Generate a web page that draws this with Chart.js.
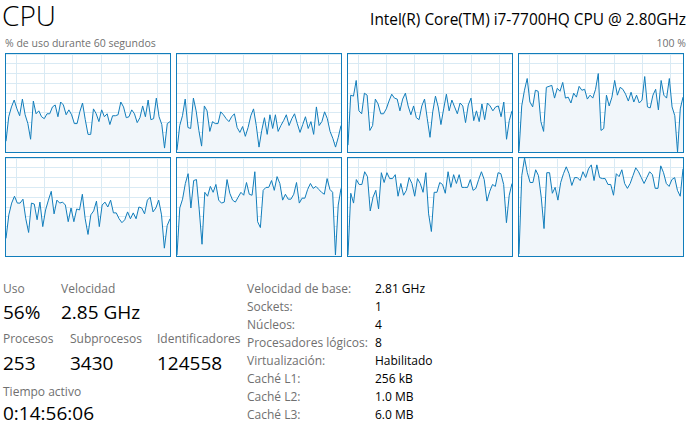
<!DOCTYPE html>
<html><head><meta charset="utf-8">
<script src="https://cdn.jsdelivr.net/npm/chart.js@4.4.1/dist/chart.umd.min.js"></script>
<style>
html,body{margin:0;padding:0;background:#fff;width:693px;height:430px;overflow:hidden;font-family:"Open Sans","Noto Sans",sans-serif;}
.t{position:absolute;white-space:nowrap;}
.box{position:absolute;border:1px solid #117DBB;width:164px;height:98px;}
.box canvas{display:block;}
.lab{color:#707070;font-size:12px;line-height:12px;}
.big{color:#000;font-size:19px;line-height:19px;}
.val{color:#000;font-size:12px;line-height:12px;}
</style></head><body>
<div id="root"></div>
<script>
// ---- data (CPU % per logical processor, last 60 s) ----
const cpu0 = [11,36,46,53,44,37,54,38,29,13,52,39,42,36,34,39,39,46,48,36,51,48,38,43,38,29,29,41,50,33,18,18,44,39,31,43,36,39,28,37,37,38,51,46,35,36,43,39,30,35,47,36,53,33,34,55,36,28,4,29,31];
const cpu1 = [2,27,37,54,25,24,55,42,22,6,47,42,21,31,29,29,41,38,34,31,36,39,25,20,26,16,25,37,44,27,5,22,35,18,38,24,38,21,27,32,38,27,34,39,29,20,28,36,24,31,18,46,27,31,41,34,21,14,5,15,27];
const cpu2 = [7,58,57,73,42,39,60,58,22,27,54,49,39,39,44,52,59,55,54,42,54,60,47,38,47,35,33,47,54,34,15,41,57,46,28,44,59,42,53,46,39,50,47,30,48,55,32,42,31,49,33,50,47,42,46,47,36,51,13,32,42];
const cpu3 = [1,47,63,75,51,46,63,62,31,21,66,67,68,55,65,62,71,55,56,50,60,56,67,63,64,54,58,55,64,80,22,24,58,47,56,73,58,66,64,59,52,61,51,58,50,53,77,46,45,58,64,43,73,58,55,75,46,37,0,44,56];
const cpu4 = [18,42,54,61,54,54,58,38,24,54,53,37,55,30,47,57,66,43,57,54,55,52,35,49,35,48,47,63,38,22,42,46,56,30,52,55,50,57,44,44,38,34,37,45,38,44,38,50,49,43,57,60,45,49,57,42,8,31,38];
const cpu5 = [1,49,58,74,84,49,77,78,47,12,65,61,71,65,73,57,54,55,78,64,57,55,60,65,62,75,63,62,86,35,29,67,70,70,77,67,81,74,57,63,58,58,63,75,54,59,59,68,74,69,71,68,65,63,79,68,65,1,52,69];
const cpu6 = [1,64,54,78,73,73,86,81,46,60,67,48,85,75,85,79,79,83,61,74,62,67,80,74,61,79,74,65,85,43,25,65,65,75,73,64,86,70,83,74,83,70,70,70,78,67,69,78,86,78,56,66,73,71,85,84,73,34,62,74];
const cpu7 = [2,82,100,85,75,75,88,82,60,28,85,85,64,70,57,75,84,91,84,72,80,80,77,86,80,89,93,77,93,80,79,79,73,73,62,84,81,88,74,69,74,82,90,86,80,74,80,86,83,69,69,92,85,74,71,78,80,67,61,89];
const cores = [cpu0,cpu1,cpu2,cpu3,cpu4,cpu5,cpu6,cpu7];
const windowSeconds = 60;
const yTicks = [0,10,20,30,40,50,60,70,80,90,100];

const root = document.getElementById('root');
function txt(s, x, baseline, cls, fs, right){
  const d = document.createElement('div');
  d.className = 't ' + (cls||'');
  d.textContent = s;
  if (fs) { d.style.fontSize = fs+'px'; d.style.lineHeight = fs+'px'; }
  const f = fs || (cls==='big'?19:12);
  d.style.top = (baseline - 0.888*f) + 'px';
  if (right) d.style.right = (693 - x) + 'px'; else d.style.left = x + 'px';
  root.appendChild(d);
  return d;
}
// header
const h = txt('CPU', 2, 26, '', 28); h.style.fontWeight='300'; h.style.color='#000';
const m = txt('Intel(R) Core(TM) i7-7700HQ CPU @ 2.80GHz', 686, 26, '', 15.4, true); m.style.color='#000';
const s1 = txt('% de uso durante 60 segundos', 5, 47, '', 10.5); s1.style.color='#707070';
const s2 = txt('100 %', 686, 47, '', 10.5, true); s2.style.color='#707070';

// charts
const boxX = [5,176,347,518], boxY = [53,157];
cores.forEach((vals, k) => {
  const b = document.createElement('div');
  b.className = 'box';
  b.style.left = boxX[k%4] + 'px';
  b.style.top = boxY[Math.floor(k/4)] + 'px';
  const c = document.createElement('canvas');
  c.width = 164; c.height = 98;
  b.appendChild(c); root.appendChild(b);
  const n = vals.length;
  new Chart(c, {
    type: 'line',
    data: { datasets: [{
      data: vals.map((v,i)=>({x: i*windowSeconds/(n-1), y: v})),
      borderColor: '#117DBB', borderWidth: 1, backgroundColor: '#F1F6FA',
      fill: 'origin', pointRadius: 0, tension: 0
    }]},
    options: {
      responsive: false, animation: false, events: [],
      layout: { padding: 0 },
      plugins: { legend: { display: false }, tooltip: { enabled: false } },
      scales: {
        x: { type: 'linear', min: 0, max: windowSeconds,
             ticks: { display: false }, border: { display: false },
             grid: { color: '#D9EAF4', drawTicks: false },
             afterBuildTicks: sc => { const t=[]; for (let v=3.9; v<windowSeconds; v+=10.3) t.push({value:v}); sc.ticks = t; } },
        y: { min: 0, max: 100,
             ticks: { display: false, stepSize: 10 }, border: { display: false },
             grid: { color: '#D9EAF4', drawTicks: false },
             afterBuildTicks: sc => { sc.ticks = yTicks.map(v=>({value:v})); } }
      }
    }
  });
});

// stats
txt('Uso', 3, 294, 'lab');
txt('Velocidad', 61, 294, 'lab');
txt('56%', 3, 320, 'big');
txt('2.85 GHz', 61, 320, 'big');
txt('Procesos', 3, 344, 'lab');
txt('Subprocesos', 70, 344, 'lab');
txt('Identificadores', 157, 344, 'lab');
txt('253', 3, 371, 'big');
txt('3430', 70, 371, 'big');
txt('124558', 157, 371, 'big');
txt('Tiempo activo', 3, 397, 'lab');
txt('0:14:56:06', 3, 421, 'big');

const infoL = ['Velocidad de base:','Sockets:','Núcleos:','Procesadores lógicos:','Virtualización:','Caché L1:','Caché L2:','Caché L3:'];
const infoV = ['2.81 GHz','1','4','8','Habilitado','256 kB','1.0 MB','6.0 MB'];
infoL.forEach((l,i)=>{ txt(l, 247, 294+18*i, 'lab'); txt(infoV[i], 375, 294+18*i, 'val'); });
</script>
</body></html>
